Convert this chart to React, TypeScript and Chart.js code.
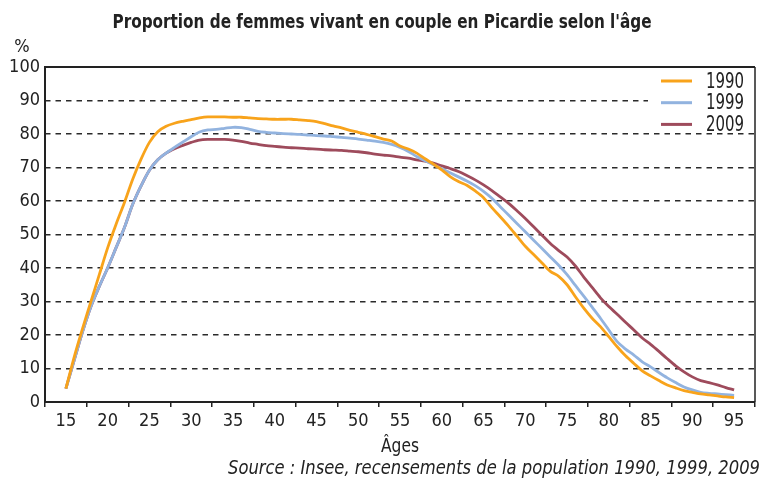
import React, { useEffect, useRef } from 'react';
import { Chart, registerables } from 'chart.js';

Chart.register(...registerables);

const FONT = '"Liberation Sans Narrow", "DejaVu Sans Condensed", "Arial Narrow", sans-serif';

const chartTitle = "Proportion de femmes vivant en couple en Picardie selon l'âge";
const yUnit = '%';
const xTitle = 'Âges';
const sourceText = 'Source : Insee, recensements de la population 1990, 1999, 2009';

const tickLabels = ['15', '20', '25', '30', '35', '40', '45', '50', '55', '60', '65', '70', '75', '80', '85', '90', '95'];

const ages = [
  15, 16, 17, 18, 19, 20, 21, 22, 23, 24,
  25, 26, 27, 28, 29, 30, 31, 32, 33, 34,
  35, 36, 37, 38, 39, 40, 41, 42, 43, 44,
  45, 46, 47, 48, 49, 50, 51, 52, 53, 54,
  55, 56, 57, 58, 59, 60, 61, 62, 63, 64,
  65, 66, 67, 68, 69, 70, 71, 72, 73, 74,
  75, 76, 77, 78, 79, 80, 81, 82, 83, 84,
  85, 86, 87, 88, 89, 90, 91, 92, 93, 94, 95,
];

const v1990 = [
  4, 13.5, 22, 30, 38, 46, 53, 59.5, 66.5, 72.5,
  77.5, 80.7, 82.3, 83.2, 83.8, 84.3, 84.8, 85.1, 85.1, 85.1,
  85.0, 85.0, 84.8, 84.6, 84.5, 84.4, 84.4, 84.4, 84.2, 84.0,
  83.7, 83.1, 82.4, 81.8, 81.1, 80.5, 79.9, 79.2, 78.5, 77.9,
  76.4, 75.5, 74.3, 72.6, 71.0, 69.3, 67.3, 65.8, 64.7, 63.0,
  61.0, 58.0, 55.3, 52.5, 49.5, 46.5, 44.0, 41.5, 39.0, 37.5,
  35.0, 31.4, 28.0, 25.0, 22.5, 19.5, 16.5, 13.8, 11.5, 9.3,
  7.8, 6.4, 5.1, 4.2, 3.4, 2.9, 2.4, 2.1, 1.8, 1.5, 1.3,
];

const v1999 = [
  4, 12.5, 21, 28.5, 34.5, 40, 46, 52, 59, 64.5,
  69.2, 72.3, 74.3, 76.0, 77.6, 79.2, 80.6, 81.2, 81.4, 81.7,
  82.0, 81.9, 81.4, 80.8, 80.5, 80.3, 80.1, 80.0, 79.9, 79.7,
  79.5, 79.4, 79.2, 79.0, 78.8, 78.5, 78.2, 77.9, 77.5, 76.9,
  76.0, 74.8, 73.3, 72.0, 70.8, 69.6, 68.4, 67.2, 66.0, 64.6,
  62.9, 60.8, 58.3, 55.8, 53.3, 50.8, 48.3, 45.8, 43.3, 40.8,
  38.0, 34.8, 31.6, 28.3, 25.0, 21.5, 18.0, 15.8, 14.0, 12.0,
  10.5, 8.8, 7.2, 5.8, 4.5, 3.6, 2.9, 2.6, 2.4, 2.2, 2.0,
];

const v2009 = [
  4, 12.5, 21, 28.5, 34.5, 40, 46, 52, 59, 64.5,
  69.2, 72.3, 74.3, 75.6, 76.6, 77.5, 78.2, 78.4, 78.4, 78.4,
  78.2, 77.8, 77.3, 76.9, 76.5, 76.3, 76.1, 75.9, 75.8, 75.6,
  75.5, 75.3, 75.2, 75.1, 74.9, 74.7, 74.4, 74.0, 73.7, 73.5,
  73.1, 72.8, 72.3, 71.9, 71.3, 70.5, 69.7, 68.8, 67.6, 66.3,
  64.8, 63.1, 61.2, 59.3, 57.1, 54.8, 52.3, 49.8, 47.3, 45.2,
  43.3, 40.6, 37.3, 34.2, 31.1, 28.5, 26.2, 23.8, 21.5, 19.1,
  17.2, 15.1, 12.9, 10.8, 9.0, 7.5, 6.4, 5.8, 5.1, 4.3, 3.6,
];

const seriesLabels = ['1990', '1999', '2009'];
const seriesValues = [v1990, v1999, v2009];
const seriesColors = ['#F8A31B', '#92B3DF', '#9E4B5C'];

function fitText(ctx: CanvasRenderingContext2D, text: string, x: number, y: number, align: 'left' | 'center' | 'right', width: number) {
  const w = ctx.measureText(text).width;
  const sx = width / w;
  ctx.save();
  ctx.textAlign = 'left';
  let left = x;
  if (align === 'center') left = x - width / 2;
  if (align === 'right') left = x - width;
  ctx.translate(left, y);
  ctx.scale(sx, 1);
  ctx.fillText(text, 0, 0);
  ctx.restore();
}

export default function App() {
  const ref = useRef<HTMLCanvasElement>(null);

  useEffect(() => {
    const canvas = ref.current;
    if (!canvas) return;

    const decor = {
      id: 'decor',
      beforeDraw(chart: any) {
        const ctx = chart.ctx;
        ctx.save();
        ctx.fillStyle = '#ffffff';
        ctx.fillRect(0, 0, chart.width, chart.height);
        ctx.restore();
      },
      afterDraw(chart: any) {
        const ctx = chart.ctx;
        const a = chart.chartArea;
        ctx.save();
        // frame
        ctx.strokeStyle = '#222222';
        ctx.lineWidth = 2;
        ctx.beginPath();
        ctx.moveTo(a.right, a.top);
        ctx.lineTo(a.left, a.top);
        ctx.lineTo(a.left, a.bottom);
        ctx.lineTo(a.right, a.bottom);
        ctx.stroke();
        ctx.lineWidth = 1.5;
        ctx.beginPath();
        ctx.moveTo(a.right, a.top);
        ctx.lineTo(a.right, a.bottom);
        ctx.stroke();

        // legend
        ctx.fillStyle = '#ffffff';
        ctx.fillRect(a.right - 107, a.top + 2, 106, 63);
        seriesLabels.forEach((lab, i) => {
          const y = a.top + 14 + i * 21.7;
          ctx.strokeStyle = seriesColors[i];
          ctx.lineWidth = 3;
          ctx.beginPath();
          ctx.moveTo(a.right - 94, y);
          ctx.lineTo(a.right - 63, y);
          ctx.stroke();
          ctx.fillStyle = '#222222';
          ctx.font = `22px ${FONT}`;
          ctx.textBaseline = 'middle';
          fitText(ctx, lab, a.right - 49, y + 1, 'left', 38);
        });

        // texts
        ctx.fillStyle = '#222222';
        ctx.textBaseline = 'middle';
        ctx.font = `bold 20px ${FONT}`;
        fitText(ctx, chartTitle, 382, 23, 'center', 539);
        ctx.font = `18px ${FONT}`;
        ctx.textAlign = 'center';
        ctx.fillText(yUnit, 22, 47);
        ctx.font = `20px ${FONT}`;
        fitText(ctx, xTitle, 400, 447, 'center', 38);
        ctx.font = `italic 19px ${FONT}`;
        fitText(ctx, sourceText, 760, 469, 'right', 532);
        ctx.restore();
      },
    };

    const chart = new Chart(canvas, {
      type: 'line',
      data: {
        datasets: seriesLabels.map((label, i) => ({
          label,
          data: ages.map((age, j) => ({ x: age, y: seriesValues[i][j] })),
          borderColor: seriesColors[i],
          backgroundColor: seriesColors[i],
          borderWidth: 2.8,
          pointRadius: 0,
          tension: 0.3,
          xAxisID: 'xd',
          yAxisID: 'y',
        })),
      },
      options: {
        animation: false,
        responsive: false,
        devicePixelRatio: 1,
        layout: { padding: { top: 67, right: 9, left: 0, bottom: 0 } },
        plugins: {
          legend: { display: false },
          title: { display: false },
          tooltip: { enabled: false },
        },
        scales: {
          x: {
            type: 'category',
            labels: tickLabels,
            position: 'bottom',
            offset: true,
            grid: {
              offset: true,
              drawOnChartArea: false,
              drawTicks: true,
              tickLength: 5,
              color: '#222222',
              lineWidth: 1.5,
            },
            border: { display: false },
            ticks: {
              font: { family: FONT, size: 18 },
              color: '#222222',
              padding: 4,
              maxRotation: 0,
              autoSkip: false,
            },
            afterFit: (s: any) => {
              s.height = 77;
            },
          },
          xd: {
            type: 'linear',
            min: 12.5,
            max: 97.5,
            display: false,
          },
          y: {
            type: 'linear',
            min: 0,
            max: 100,
            ticks: {
              stepSize: 10,
              font: { family: FONT, size: 18 },
              color: '#222222',
              padding: 5,
            },
            grid: {
              drawTicks: false,
              color: (ctx: any) =>
                ctx.tick && (ctx.tick.value === 0 || ctx.tick.value === 100) ? 'rgba(0,0,0,0)' : '#2a2a2a',
              lineWidth: 1.4,
            },
            border: { display: false, dash: [5.5, 5] },
            afterFit: (s: any) => {
              s.width = 45;
            },
          },
        },
      },
      plugins: [decor],
    });

    return () => chart.destroy();
  }, []);

  return (
    <div style={{ position: 'fixed', left: 0, top: 0, width: 764, height: 479, background: '#fff' }}>
      <canvas ref={ref} width={764} height={479} style={{ display: 'block' }} />
    </div>
  );
}
